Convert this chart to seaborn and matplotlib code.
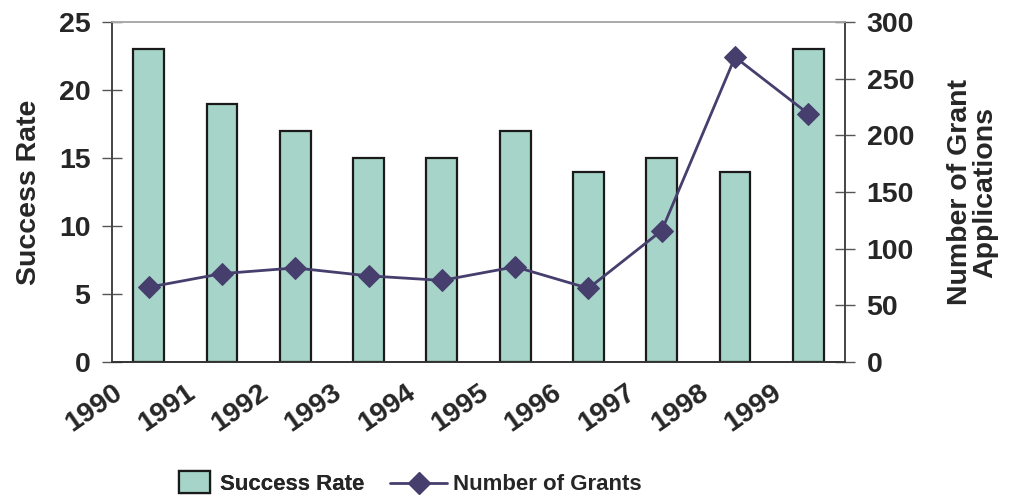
import numpy as np
import pandas as pd
import matplotlib
matplotlib.use("Agg")
import matplotlib.pyplot as plt
from matplotlib.lines import Line2D
from matplotlib.patches import Patch
import seaborn as sns

years = [1990, 1991, 1992, 1993, 1994, 1995, 1996, 1997, 1998, 1999]
success_rate = [23, 19, 17, 15, 15, 17, 14, 15, 14, 23]
num_grants = [66, 78, 83, 76, 72, 84, 65, 116, 269, 219]

left_ticks = [0, 5, 10, 15, 20, 25]
right_ticks = [0, 50, 100, 150, 200, 250, 300]

sns.set_style("white")
plt.rcParams['font.family'] = ['Liberation Sans', 'DejaVu Sans']
plt.rcParams['font.weight'] = 'bold'

bar_color = "#a6d4c8"
line_color = "#463f6e"
fs = 20.5

df = pd.DataFrame({"year": years, "rate": success_rate, "grants": num_grants})
df["mid"] = df["year"] + 0.5

fig = plt.figure(figsize=(10.1, 5.01), dpi=100)
ax = fig.add_axes([112/1010, 1-362/501, (845-112)/1010, (362-22)/501])

sns.barplot(data=df, x="mid", y="rate", native_scale=True, width=0.42,
            color=bar_color, edgecolor="#1a1a1a", linewidth=1.6,
            saturation=1, ax=ax, zorder=2)
ax.set_xlim(1990, 2000)
ax.set_ylim(0, 25)
ax.set_yticks(left_ticks)
ax.set_yticklabels([str(t) for t in left_ticks], fontsize=fs, fontweight='bold')
ax.set_xticks(years + [2000])
ax.set_xticklabels([str(y) for y in years] + [""], fontsize=fs, fontweight='bold',
                   rotation=35, ha='right', va='top', rotation_mode='anchor')
ax.tick_params(axis='x', direction='inout', length=15, width=1, color='#555555', pad=5)
ax.tick_params(axis='y', direction='inout', length=15, width=1, color='#555555', pad=8)
ax.set_xlabel("")
ax.set_ylabel("Success Rate", fontsize=fs, fontweight='bold', labelpad=12)

ax2 = ax.twinx()
sns.lineplot(data=df, x="mid", y="grants", color=line_color, linewidth=2,
             marker="D", markersize=11.5, markeredgecolor=line_color, ax=ax2, zorder=3)
ax2.set_ylim(0, 300)
ax2.set_xlim(1990, 2000)
ax2.set_yticks(right_ticks)
ax2.set_yticklabels([str(t) for t in right_ticks], fontsize=fs, fontweight='bold')
ax2.tick_params(axis='y', direction='inout', length=15, width=1, color='#555555', pad=8)
ax2.set_ylabel("Number of Grant\nApplications", fontsize=fs, fontweight='bold',
               rotation=90, labelpad=24, linespacing=0.95)
ax2.set_xlabel("")

for a in (ax, ax2):
    a.spines['top'].set_color('#aaaaaa')
    a.spines['left'].set_color('#444444')
    a.spines['right'].set_color('#444444')
    a.spines['bottom'].set_color('#333333')
    for s in a.spines.values():
        s.set_linewidth(1.2)

leg1 = fig.legend([Patch(facecolor=bar_color, edgecolor="#1a1a1a", linewidth=1.6)],
                  ["Success Rate"], loc='center left', bbox_to_anchor=(0.157, 0.036),
                  frameon=False, prop={'size': 16, 'weight': 'bold'},
                  handlelength=1.4, handleheight=1.1, handletextpad=0.45)
fig.add_artist(leg1)
fig.legend([Line2D([0], [0], color=line_color, linewidth=2, marker="D", markersize=11)],
           ["Number of Grants"], loc='center left', bbox_to_anchor=(0.366, 0.032),
           frameon=False, prop={'size': 16, 'weight': 'bold'},
           handlelength=2.6, handletextpad=0.25)

fig.savefig("out.png", dpi=100)
